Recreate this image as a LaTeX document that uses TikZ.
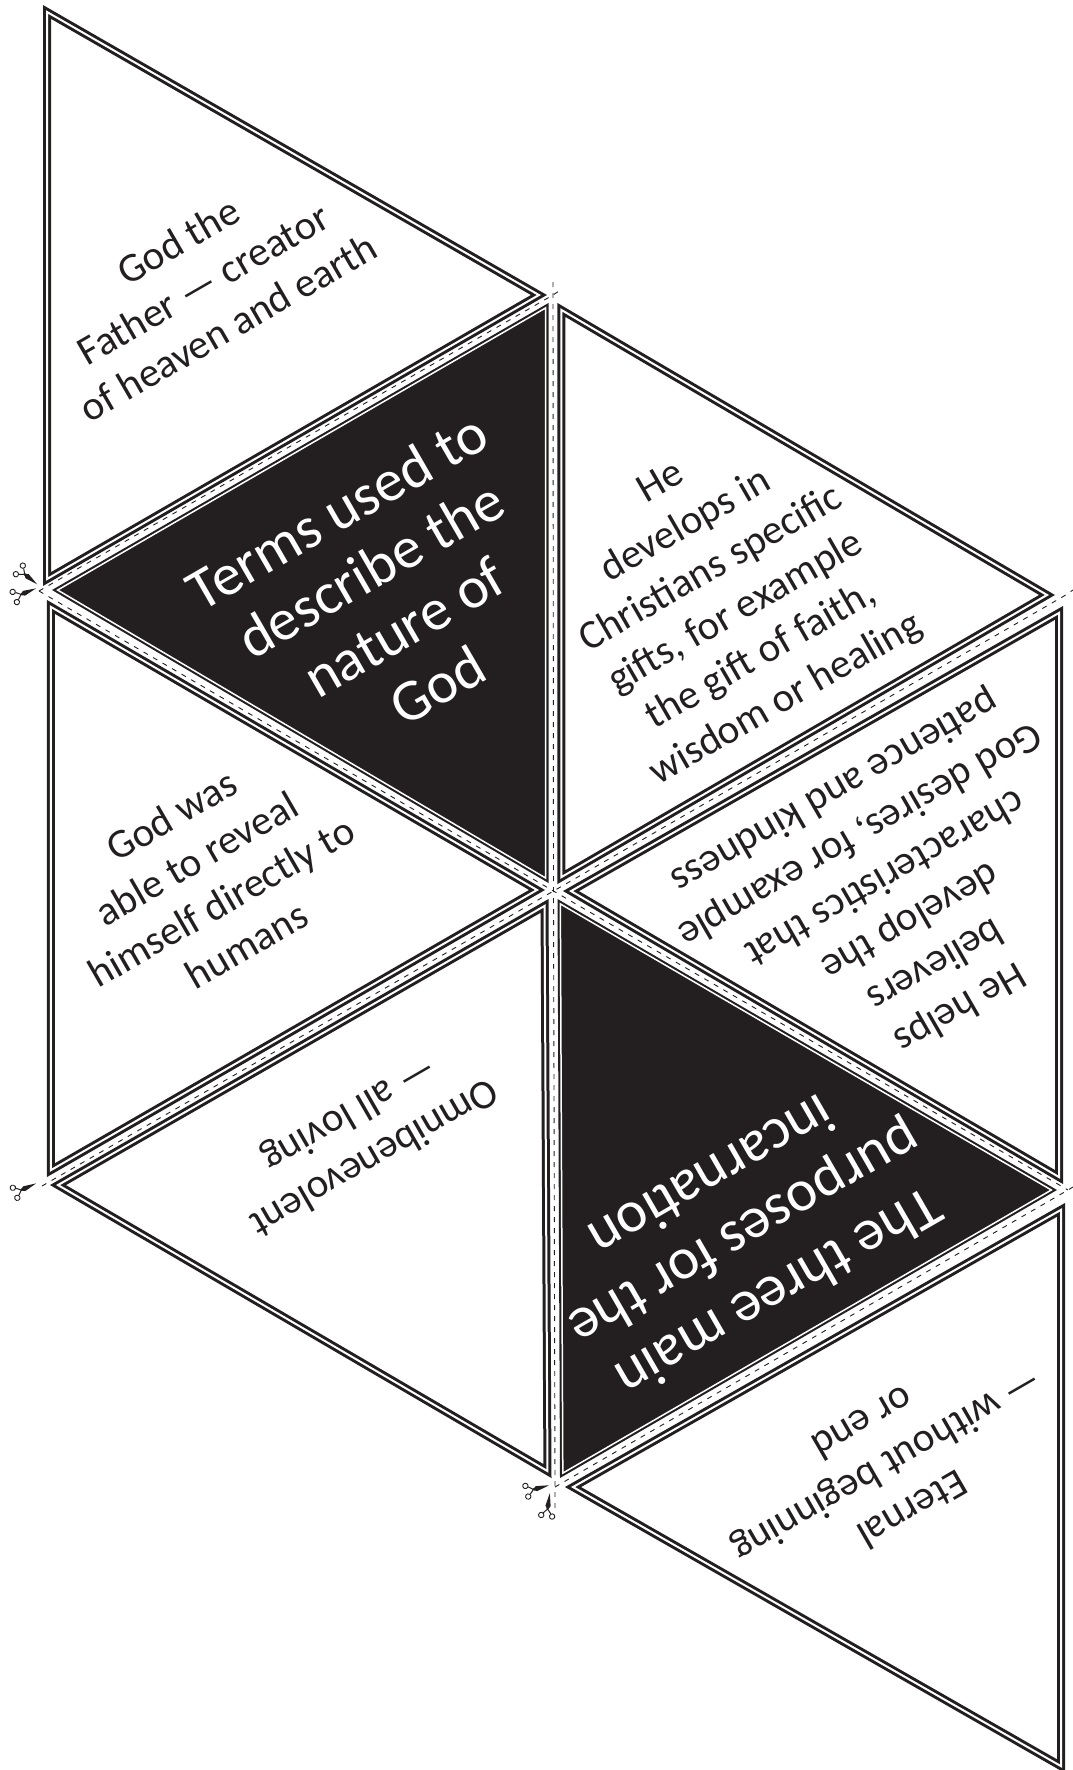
\documentclass[tikz,border=0pt]{standalone}
\usepackage{fontspec}
\setmainfont{Carlito}
\usetikzlibrary{calc}
\definecolor{ink}{HTML}{231F20}
\newcommand{\panel}[3]{%
  \coordinate (cc) at (barycentric cs:#1=1,#2=1,#3=1);
  \draw[band] ($(cc)!.976!(#1)$) -- ($(cc)!.976!(#2)$) -- ($(cc)!.976!(#3)$) -- cycle;}
\newcommand{\darkpanel}[3]{%
  \coordinate (cc) at (barycentric cs:#1=1,#2=1,#3=1);
  \path[fill=ink] (#1) -- (#2) -- (#3) -- cycle;
  \draw[darkband] ($(cc)!.983!(#1)$) -- ($(cc)!.983!(#2)$) -- ($(cc)!.983!(#3)$) -- cycle;}
\newcommand{\snips}[2]{%
  \begin{scope}[shift={(#1)},rotate=#2]
    \fill[ink] (1,0) -- (14,-2.6) -- (18,0) -- (14,2.6) -- cycle;
    \draw[ink,line width=1pt] (16,-1) -- (21.5,3.8) (16,1) -- (21.5,-3.8);
    \draw[ink,line width=.9pt] (24,5.5) circle (2.7) (24,-5.5) circle (2.7);
  \end{scope}}
\tikzset{
  band/.style={draw=ink,double=white,double distance=2pt,line width=3pt,miter limit=10,line join=miter},
  darkband/.style={draw=white,line width=1.5pt,miter limit=10,line join=miter},
  foldline/.style={draw=ink,line width=.9pt,dash pattern=on 5pt off 6pt},
  copy/.style={align=center,text=ink,font=\fontsize{41}{50}\selectfont},
  head/.style={align=center,text=white,font=\fontsize{59}{67}\selectfont},
}
\begin{document}
\begin{tikzpicture}[x=1pt,y=-1pt]
\useasboundingbox (0,0) rectangle (1073,1770);
% lattice
\coordinate (A) at (553,295);
\coordinate (B) at (39,591);
\coordinate (C) at (553.5,891);
\coordinate (D) at (1064,596);
\coordinate (E) at (1068,1190);
\coordinate (F) at (42,1186);
\coordinate (G) at (555,1487);
% corners
\coordinate (a1) at (43,5);    \coordinate (a2) at (547,295);  \coordinate (a3) at (43,586);
\coordinate (b1) at (52,590);  \coordinate (b2) at (548.5,303);\coordinate (b3) at (548.5,883);
\coordinate (c1) at (557.5,303);\coordinate (c2) at (1055,595);\coordinate (c3) at (557.5,884);
\coordinate (d1) at (563,891); \coordinate (d2) at (1063,606); \coordinate (d3) at (1063,1184);
\coordinate (e1) at (47,600);  \coordinate (e2) at (545,890);  \coordinate (e3) at (47,1177);
\coordinate (f1) at (50,1185); \coordinate (f2) at (548.5,899);\coordinate (f3) at (551.5,1478);
\coordinate (g1) at (557.5,899);\coordinate (g2) at (1057,1190);\coordinate (g3) at (560,1478);
\coordinate (h1) at (1065,1203);\coordinate (h2) at (565,1487);\coordinate (h3) at (1065,1773);
\panel{a1}{a2}{a3}
\darkpanel{b1}{b2}{b3}
\panel{c1}{c2}{c3}
\panel{d1}{d2}{d3}
\panel{e1}{e2}{e3}
\panel{f1}{f2}{f3}
\darkpanel{g1}{g2}{g3}
\panel{h1}{h2}{h3}
% folds
\coordinate (Aup) at (553,282);
\coordinate (Gdn) at (555,1512);
\coordinate (Aout) at (562,289);
\coordinate (Dout) at (1073,590);
\coordinate (Eout) at (1073,1187);
\draw[foldline] (Aup) -- (A) -- (C) -- (G) -- (Gdn);
\draw[foldline] (B) -- (A) -- (Aout);
\draw[foldline] (B) -- (C) -- (E);
\draw[foldline] (F) -- (C) -- (D) -- (Dout);
\draw[foldline] (G) -- (E) -- (Eout);
% scissors
\snips{38,585}{141}
\snips{37,588}{202}
\snips{37,1183}{204}
\snips{550,1485}{195}
\snips{550,1492}{262}
% text
\node[copy,rotate=30] (t1) at (203,284) {God the\\Father — creator\\of heaven and earth};
\node[head,rotate=30] (t2) at (387,598) {Terms used to\\describe the\\nature of\\God};
\node[copy,rotate=30] (t3) at (724,592) {He\\develops in\\Christians specific\\gifts, for example\\the gift of faith,\\wisdom or healing};
\node[copy,rotate=210] (t4) at (897,899) {He helps\\believers\\develop the\\characteristics that\\God desires, for example\\patience and kindness};
\node[copy,rotate=30] (t5) at (209,880) {God was\\able to reveal\\himself directly to\\humans};
\node[copy,rotate=210] (t6) at (361,1135) {Omnibenevolent\\— all loving};
\node[head,rotate=210] (t7) at (746,1236) {The three main\\purposes for the\\incarnation};
\node[copy,rotate=210] (t8) at (888,1467) {Eternal\\— without beginning\\or end};
\end{tikzpicture}
\end{document}
